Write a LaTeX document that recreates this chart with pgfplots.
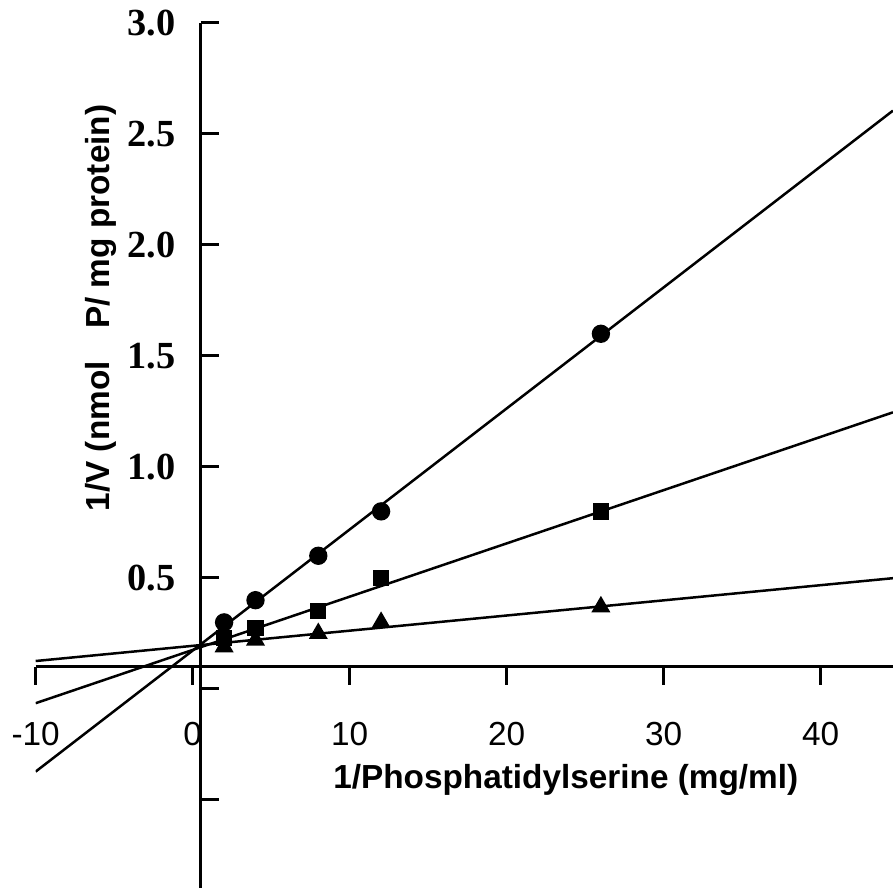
\documentclass[border=0pt]{standalone}
\usepackage{pgfplots}
\pgfplotsset{compat=1.18}
\usepackage{fontspec}
\setmainfont{Liberation Sans}
\newfontfamily\timesfont{Liberation Serif}

\begin{document}
\begin{tikzpicture}
\path[use as bounding box] (0,0) rectangle (267.9pt,266.4pt);

% data axis
\begin{axis}[
  at={(10.71pt,-0.24pt)}, anchor=south west,
  x=4.71pt, y=66.6pt,
  xmin=-10, xmax=44.6, ymin=-0.9, ymax=3.0,
  axis x line=none, axis y line=none,
  xtick=\empty, ytick=\empty,
  enlargelimits=false,
]
% regression lines
\addplot[black, line width=0.75pt] coordinates {(-10,-0.372) (44.6,2.605)};
\addplot[black, line width=0.75pt] coordinates {(-10,-0.064) (44.6,1.246)};
\addplot[black, line width=0.75pt] coordinates {(-10,0.126) (44.6,0.499)};
% data
\addplot[only marks, mark=*, mark size=2.55pt, black] coordinates {(2,0.30) (4,0.40) (8,0.60) (12,0.80) (26,1.60)};
\addplot[only marks, mark=square*, mark size=2.25pt, black] coordinates {(2,0.23) (4,0.275) (8,0.35) (12,0.50) (26,0.80)};
\addplot[only marks, mark=triangle*, mark size=2.9pt, black] coordinates {(2,0.19) (4,0.22) (8,0.25) (12,0.30) (26,0.37)};
\end{axis}

% x axis
\begin{axis}[
  at={(10.71pt,66.36pt)}, anchor=south west,
  x=4.71pt, y=66.6pt,
  xmin=-10, xmax=44.6, ymin=0.1, ymax=0.2,
  axis x line=bottom, axis y line=none,
  ytick=\empty,
  xtick={-10,0,10,20,30,40},
  xticklabels={-10,0,10,20,30,40},
  tick align=outside,
  major tick length=5.4pt,
  axis line style={-, line width=0.9pt},
  major tick style={line width=0.9pt, black},
  xticklabel style={font=\fontsize{10}{12}\selectfont, anchor=north, yshift=-7.8pt},
  xlabel={\bfseries 1/Phosphatidylserine (mg/ml)},
  xlabel style={at={(axis cs:23.76,-0.446)}, anchor=base, font=\fontsize{10}{12}\selectfont},
  clip=false,
]
\end{axis}

% y axis
\begin{axis}[
  at={(60.17pt,-0.24pt)}, anchor=south west,
  x=4.71pt, y=66.6pt,
  xmin=0.5, xmax=0.6, ymin=-0.9, ymax=3.0,
  axis y line=left, axis x line=none,
  xtick=\empty,
  ytick={-0.5,0,0.5,1.0,1.5,2.0,2.5,3.0},
  yticklabels={,,0.5,1.0,1.5,2.0,2.5,3.0},
  tick align=inside,
  major tick length=5.4pt,
  axis line style={-, line width=0.9pt},
  major tick style={line width=0.9pt, black},
  yticklabel style={font=\timesfont\bfseries\fontsize{11.5}{13}\selectfont, anchor=east, xshift=-4pt},
  ylabel={\bfseries 1/V (nmol\hspace{0.7em} P/ mg protein)},
  ylabel style={at={(axis cs:-5.29,1.716)}, anchor=base, font=\fontsize{10}{12}\selectfont},
  clip=false,
]
\end{axis}
\end{tikzpicture}
\end{document}
